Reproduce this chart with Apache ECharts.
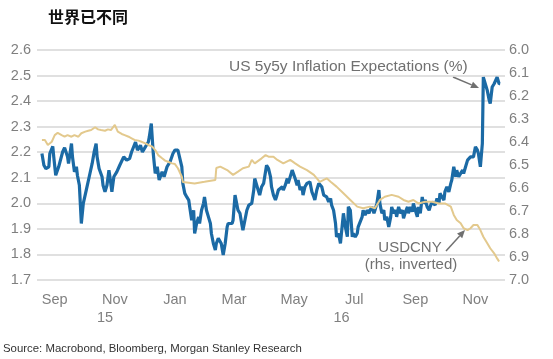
<!DOCTYPE html>
<html>
<head>
<meta charset="utf-8">
<script src="https://cdn.jsdelivr.net/npm/echarts@6/dist/echarts.min.js"></script>
<style>
html,body{margin:0;padding:0;background:#fff;}
#c{width:553px;height:359px;}
</style>
</head>
<body>
<div id="c"></div>
<script>
// ---- Data ----
var titleText = '世界已不同';
var sourceText = 'Source: Macrobond, Bloomberg, Morgan Stanley Research';
var inflLabel = 'US 5y5y Inflation Expectations (%)';
var cnyLabel1 = 'USDCNY';
var cnyLabel2 = '(rhs, inverted)';

var monthTickDates = ['2015-09-01','2015-11-01','2016-01-01','2016-03-01','2016-05-01','2016-07-01','2016-09-01','2016-11-01'];
var monthTickLabels = ['Sep','Nov','Jan','Mar','May','Jul','Sep','Nov'];
var yearTickDates = ['2015-10-22','2016-06-18'];
var yearTickLabels = ['15','16'];

var leftTicks = [1.7, 2.6, 0.1];   // min, max, step
var rightTicks = [6.0, 7.0, 0.1];

var inflDates = ['2015-08-19','2015-08-21','2015-08-23','2015-08-26','2015-08-27','2015-08-30','2015-08-31',
'2015-09-02','2015-09-05','2015-09-07','2015-09-09','2015-09-11','2015-09-14','2015-09-15','2015-09-18','2015-09-19','2015-09-21','2015-09-23','2015-09-24','2015-09-26','2015-09-28','2015-09-30',
'2015-10-03','2015-10-04','2015-10-06','2015-10-09','2015-10-11','2015-10-13','2015-10-14','2015-10-16','2015-10-19','2015-10-20','2015-10-22','2015-10-24','2015-10-26','2015-10-27','2015-10-29','2015-10-31',
'2015-11-03','2015-11-06','2015-11-08','2015-11-10','2015-11-13','2015-11-16','2015-11-18','2015-11-22','2015-11-24','2015-11-27','2015-11-29',
'2015-12-02','2015-12-05','2015-12-06','2015-12-08','2015-12-09','2015-12-10','2015-12-12','2015-12-14','2015-12-16','2015-12-19','2015-12-21','2015-12-24','2015-12-27','2015-12-30',
'2016-01-01','2016-01-04','2016-01-06','2016-01-08','2016-01-09','2016-01-11','2016-01-13','2016-01-15','2016-01-16','2016-01-18','2016-01-20','2016-01-21','2016-01-23','2016-01-25','2016-01-26','2016-01-28','2016-01-30','2016-01-31',
'2016-02-02','2016-02-04','2016-02-06','2016-02-07','2016-02-09','2016-02-11','2016-02-12','2016-02-14','2016-02-16','2016-02-17','2016-02-19','2016-02-21','2016-02-23','2016-02-24','2016-02-28','2016-02-29',
'2016-03-02','2016-03-04','2016-03-05','2016-03-07','2016-03-09','2016-03-10','2016-03-12','2016-03-14','2016-03-16','2016-03-19','2016-03-21','2016-03-22','2016-03-24','2016-03-26','2016-03-27','2016-03-29','2016-03-31',
'2016-04-01','2016-04-03','2016-04-05','2016-04-07','2016-04-08','2016-04-10','2016-04-12','2016-04-13','2016-04-15','2016-04-17','2016-04-19','2016-04-20','2016-04-22','2016-04-24','2016-04-25','2016-04-27','2016-04-29','2016-04-30',
'2016-05-02','2016-05-04','2016-05-05','2016-05-07','2016-05-09','2016-05-10','2016-05-12','2016-05-14','2016-05-16','2016-05-17','2016-05-19','2016-05-21','2016-05-22','2016-05-24','2016-05-26','2016-05-27','2016-05-29','2016-05-31',
'2016-06-01','2016-06-03','2016-06-05','2016-06-07','2016-06-08','2016-06-10','2016-06-12','2016-06-13','2016-06-15','2016-06-17','2016-06-19','2016-06-20','2016-06-22','2016-06-24','2016-06-25','2016-06-27','2016-06-29','2016-06-30',
'2016-07-02','2016-07-04','2016-07-05','2016-07-07','2016-07-09','2016-07-10','2016-07-12','2016-07-14','2016-07-16','2016-07-17','2016-07-19','2016-07-21','2016-07-22','2016-07-24','2016-07-26','2016-07-27','2016-07-29','2016-07-31',
'2016-08-01','2016-08-03','2016-08-05','2016-08-07','2016-08-08','2016-08-10','2016-08-12','2016-08-13','2016-08-15','2016-08-17','2016-08-19','2016-08-20','2016-08-22','2016-08-24','2016-08-25','2016-08-27','2016-08-29','2016-08-30',
'2016-09-01','2016-09-03','2016-09-04','2016-09-06','2016-09-08','2016-09-09','2016-09-11','2016-09-13','2016-09-15','2016-09-16','2016-09-18','2016-09-20','2016-09-21','2016-09-23','2016-09-25','2016-09-26','2016-09-28','2016-09-30',
'2016-10-01','2016-10-03','2016-10-05','2016-10-07','2016-10-08','2016-10-10','2016-10-12','2016-10-13','2016-10-15','2016-10-17','2016-10-19','2016-10-20','2016-10-22','2016-10-24','2016-10-25','2016-10-27','2016-10-29','2016-10-30',
'2016-11-01','2016-11-03','2016-11-04','2016-11-06','2016-11-08','2016-11-09','2016-11-11','2016-11-13','2016-11-15','2016-11-16','2016-11-18','2016-11-20','2016-11-21','2016-11-23','2016-11-25','2016-11-26'];

var inflValues = [2.195,2.149,2.136,2.143,2.195,2.223,2.182,
2.110,2.143,2.136,2.201,2.218,2.182,2.156,2.234,2.182,2.123,2.143,2.110,2.071,1.921,2.000,
2.052,2.058,2.104,2.156,2.201,2.234,2.182,2.136,2.104,2.071,2.045,2.071,2.130,2.104,2.045,2.104,
2.123,2.149,2.143,2.182,2.169,2.175,2.201,2.240,2.208,2.227,2.201,
2.221,2.240,2.260,2.312,2.314,2.195,2.117,2.143,2.091,2.123,2.104,2.143,2.162,2.195,
2.208,2.208,2.208,2.143,2.078,2.039,2.025,2.013,1.986,1.934,1.973,1.882,1.921,1.947,1.921,1.973,2.000,2.025,
1.973,1.947,1.921,1.882,1.843,1.817,1.843,1.863,1.869,1.843,1.798,1.843,1.908,1.921,1.921,1.934,
2.032,2.025,1.973,1.961,1.915,1.895,1.934,1.973,1.993,2.000,2.052,2.097,2.071,2.045,2.032,2.065,2.078,
2.084,2.149,2.136,2.104,2.065,2.032,2.013,2.025,2.052,2.045,2.065,2.052,2.071,2.097,2.078,2.084,2.130,2.123,
2.097,2.071,2.091,2.052,2.065,2.032,2.065,2.078,2.071,2.084,2.045,2.025,2.013,2.052,2.078,2.084,2.065,2.032,
2.039,2.025,2.006,2.019,1.993,1.973,1.921,1.869,1.882,1.843,1.837,1.961,1.908,1.869,1.986,1.973,1.869,1.882,
1.869,1.882,1.908,1.902,1.947,1.973,1.954,1.973,1.961,1.973,1.986,1.961,1.973,2.000,2.052,2.000,1.961,1.973,
1.934,1.947,1.908,1.947,1.986,1.961,1.973,1.947,1.986,1.961,1.973,1.941,1.967,1.986,1.961,1.986,1.967,2.000,
1.973,1.947,1.986,1.961,2.025,2.000,2.013,1.986,1.973,1.986,2.006,2.013,1.993,2.019,2.000,2.039,2.025,2.013,
2.045,2.065,2.045,2.078,2.091,2.143,2.104,2.130,2.104,2.117,2.130,2.117,2.143,2.169,2.162,2.182,2.175,2.182,
2.221,2.208,2.195,2.143,2.234,2.494,2.494,2.442,2.403,2.390,2.455,2.468,2.475,2.494,2.468,2.468];

var cnyDates = ['2015-08-19','2015-08-22','2015-08-25','2015-08-29','2015-09-01','2015-09-04','2015-09-08','2015-09-11','2015-09-14','2015-09-18','2015-09-21','2015-09-25','2015-09-28',
'2015-10-02','2015-10-05','2015-10-08','2015-10-12','2015-10-15','2015-10-18','2015-10-22','2015-10-25','2015-10-28',
'2015-11-01','2015-11-04','2015-11-08','2015-11-11','2015-11-15','2015-11-18','2015-11-21','2015-11-25','2015-11-28',
'2015-12-02','2015-12-05','2015-12-09','2015-12-12','2015-12-15','2015-12-19','2015-12-22','2015-12-25','2015-12-29',
'2016-01-01','2016-01-04','2016-01-06','2016-01-08','2016-01-09','2016-01-11','2016-01-21','2016-01-31',
'2016-02-11','2016-02-12','2016-02-16','2016-02-23','2016-02-29',
'2016-03-05','2016-03-10','2016-03-16','2016-03-19','2016-03-22','2016-03-29',
'2016-04-02','2016-04-05','2016-04-10','2016-04-14','2016-04-20','2016-04-27',
'2016-05-02','2016-05-07','2016-05-14','2016-05-21','2016-05-27',
'2016-06-03','2016-06-07','2016-06-13','2016-06-20','2016-06-27',
'2016-07-04','2016-07-10','2016-07-17','2016-07-22','2016-07-27',
'2016-08-01','2016-08-08','2016-08-15','2016-08-20','2016-08-25','2016-08-30',
'2016-09-04','2016-09-11','2016-09-18','2016-09-25',
'2016-10-01','2016-10-07','2016-10-10','2016-10-13','2016-10-17','2016-10-20','2016-10-24','2016-10-27','2016-10-30',
'2016-11-03','2016-11-06','2016-11-09','2016-11-13','2016-11-16','2016-11-20','2016-11-23','2016-11-25'];

var cnyValues = [6.391,6.391,6.413,6.399,6.370,6.360,6.370,6.377,6.370,6.377,6.370,6.377,6.362,
6.355,6.351,6.348,6.336,6.345,6.348,6.351,6.345,6.348,
6.326,6.355,6.365,6.370,6.377,6.384,6.391,6.394,6.399,
6.406,6.413,6.420,6.435,6.457,6.471,6.481,6.486,6.493,
6.496,6.514,6.522,6.551,6.574,6.580,6.580,6.573,
6.565,6.513,6.507,6.522,6.543,
6.529,6.514,6.507,6.478,6.493,6.471,
6.457,6.464,6.464,6.478,6.493,6.478,
6.493,6.507,6.522,6.543,6.573,
6.558,6.573,6.594,6.623,6.652,
6.681,6.688,6.681,6.688,6.652,
6.638,6.630,6.638,6.652,6.660,6.652,
6.667,6.660,6.660,6.667,
6.667,6.681,6.717,6.739,6.753,6.775,6.783,6.775,6.761,
6.761,6.783,6.812,6.840,6.862,6.884,6.906,6.920];

// ---- Chart ----
var chart = echarts.init(document.getElementById('c'), null, {renderer: 'canvas'});
var FONT = 'Liberation Sans, Arial, sans-serif';
var labelColor = '#7f7f7f';
function ts(s){ return Date.UTC(+s.slice(0,4), +s.slice(5,7) - 1, +s.slice(8,10)); }
function pairs(d, v){ return d.map(function(x, i){ return [ts(x), v[i]]; }); }

function arrow(x1, y1, x2, y2, color){
  var ang = Math.atan2(y2 - y1, x2 - x1), L = 8, W = 3.5;
  var bx = x2 - L * Math.cos(ang), by = y2 - L * Math.sin(ang);
  var nx = -Math.sin(ang), ny = Math.cos(ang);
  return [
    {type: 'line', silent: true, shape: {x1: x1, y1: y1, x2: bx, y2: by}, style: {stroke: color, lineWidth: 1.5}},
    {type: 'polygon', silent: true, shape: {points: [[x2, y2], [bx + nx * W, by + ny * W], [bx - nx * W, by - ny * W]]}, style: {fill: color}}
  ];
}

var xMin = ts('2015-08-14'), xMax = ts('2016-12-01');
var monthTs = monthTickDates.map(ts), yearTs = yearTickDates.map(ts);

var option = {
  animation: false,
  backgroundColor: '#ffffff',
  grid: {left: 37, right: 48, top: 50, bottom: 79, containLabel: false},
  xAxis: [{
    type: 'value', min: xMin, max: xMax, scale: true,
    axisLine: {show: false}, axisTick: {show: false}, splitLine: {show: false},
    axisLabel: {
      customValues: monthTs,
      formatter: function(v){
        var i = monthTs.indexOf(v);
        return i >= 0 ? monthTickLabels[i] : '';
      },
      color: labelColor, fontFamily: FONT, fontSize: 14.5, margin: 12, showMinLabel: true, showMaxLabel: true
    }
  }, {
    type: 'value', min: xMin, max: xMax, scale: true, position: 'bottom',
    axisLine: {show: false}, axisTick: {show: false}, splitLine: {show: false},
    axisLabel: {
      customValues: yearTs,
      formatter: function(v){
        var i = yearTs.indexOf(v);
        return i >= 0 ? yearTickLabels[i] : '';
      },
      color: labelColor, fontFamily: FONT, fontSize: 14.5, margin: 30
    }
  }],
  yAxis: [{
    type: 'value', min: leftTicks[0], max: leftTicks[1], interval: leftTicks[2],
    axisLine: {show: false}, axisTick: {show: false},
    splitLine: {show: true, lineStyle: {color: '#d6d6d6', width: 1.5}},
    axisLabel: {color: labelColor, fontFamily: FONT, fontSize: 14.5, margin: 6,
      formatter: function(v){ return v.toFixed(1); }}
  }, {
    type: 'value', min: rightTicks[0], max: rightTicks[1], interval: rightTicks[2], inverse: true,
    position: 'right',
    axisLine: {show: false}, axisTick: {show: false}, splitLine: {show: false},
    axisLabel: {color: labelColor, fontFamily: FONT, fontSize: 14.5, margin: 4,
      formatter: function(v){ return v.toFixed(1); }}
  }],
  series: [{
    name: 'US 5y5y', type: 'line', xAxisIndex: 0, yAxisIndex: 0,
    data: pairs(inflDates, inflValues), showSymbol: false, symbol: 'none',
    lineStyle: {color: '#1b6aa5', width: 3.2}, z: 2
  }, {
    name: 'USDCNY', type: 'line', xAxisIndex: 0, yAxisIndex: 1,
    data: pairs(cnyDates, cnyValues), showSymbol: false, symbol: 'none',
    lineStyle: {color: '#e3c98d', width: 2}, z: 3
  }],
  graphic: [
    {type: 'text', left: 48, top: 9, silent: true,
      style: {text: titleText, fill: '#111', font: 'bold 16px "Noto Sans CJK SC", sans-serif'}},
    {type: 'text', left: 3, top: 343, silent: true,
      style: {text: sourceText, fill: '#333', font: '11.4px "Liberation Sans", Arial, sans-serif'}},
    {type: 'text', left: 229, top: 59, silent: true,
      style: {text: inflLabel, fill: '#707070', font: '15.5px "Liberation Sans", Arial, sans-serif'}},
    {type: 'text', x: 410, y: 248, silent: true,
      style: {text: cnyLabel1, fill: '#707070', font: '15px "Liberation Sans", Arial, sans-serif', align: 'center', verticalAlign: 'middle'}},
    {type: 'text', x: 411, y: 265, silent: true,
      style: {text: cnyLabel2, fill: '#707070', font: '15px "Liberation Sans", Arial, sans-serif', align: 'center', verticalAlign: 'middle'}}
  ].concat(arrow(453, 77, 479, 88, '#707070')).concat(arrow(446, 251, 465, 230, '#707070'))
};
chart.setOption(option);
</script>
</body>
</html>
